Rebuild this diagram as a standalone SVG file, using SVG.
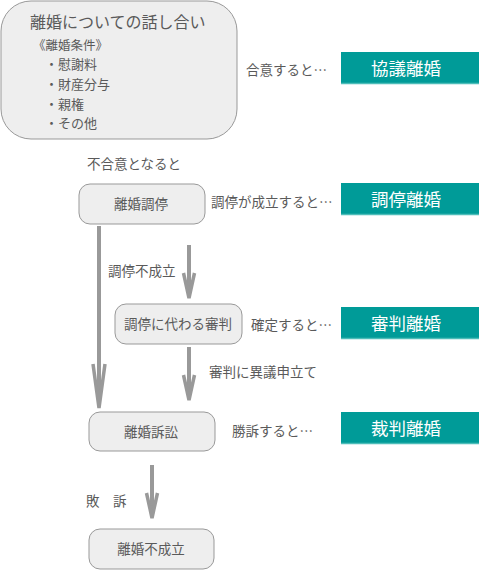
<svg xmlns="http://www.w3.org/2000/svg" width="479" height="570" viewBox="0 0 479 570">
<style>
text{font-family:"Noto Sans CJK JP","Noto Sans",sans-serif;fill:#5a5a5a}
.n{fill:#eeeeee;stroke:#999;stroke-width:1}
.t{fill:#009b98}
.tl{stroke:#4dbdb9;stroke-width:1.5}
.tt{fill:#fff;font-size:17.5px;text-anchor:middle}
.s{font-size:13.5px}
.i{font-size:13px}
.c{font-size:13.5px;text-anchor:middle}
.a{stroke:#999;stroke-width:4;fill:none}
.h{stroke:#999;stroke-width:3.5;fill:none;stroke-linejoin:miter}
</style>
<rect width="479" height="570" fill="#fff"/>
<g id="n-talk">
<rect class="n" x="1" y="1" width="236" height="138" rx="30"/>
<text x="30" y="28" style="font-size:16px">離婚についての話し合い</text>
<text x="33" y="50" style="font-size:12.5px">《離婚条件》</text>
<text x="45" y="69" class="i">・慰謝料</text>
<text x="45" y="89" class="i">・財産分与</text>
<text x="45" y="109" class="i">・親権</text>
<text x="45" y="128" class="i">・その他</text>
</g>
<g id="r1"><rect class="t" x="341" y="52" width="138" height="32"/><line class="tl" x1="341" y1="83.5" x2="479" y2="83.5"/><text class="tt" x="406" y="75">協議離婚</text></g>
<g id="r2"><rect class="t" x="341" y="183" width="138" height="32"/><line class="tl" x1="341" y1="214.5" x2="479" y2="214.5"/><text class="tt" x="406" y="206">調停離婚</text></g>
<g id="r3"><rect class="t" x="341" y="307" width="138" height="32"/><line class="tl" x1="341" y1="338.5" x2="479" y2="338.5"/><text class="tt" x="406" y="330">審判離婚</text></g>
<g id="r4"><rect class="t" x="341" y="412" width="138" height="32"/><line class="tl" x1="341" y1="443.5" x2="479" y2="443.5"/><text class="tt" x="406" y="435">裁判離婚</text></g>
<g id="n-chotei"><rect class="n" x="79" y="184" width="126" height="40" rx="11"/><text class="c" x="141" y="209">離婚調停</text></g>
<g id="n-shinpan"><rect class="n" x="115" y="304" width="127" height="40" rx="11"/><text class="c" x="178" y="329">調停に代わる審判</text></g>
<g id="n-sosho"><rect class="n" x="89" y="412" width="126" height="39" rx="11"/><text class="c" x="151" y="437">離婚訴訟</text></g>
<g id="n-fuseiritsu"><rect class="n" x="89" y="529" width="125" height="40" rx="11"/><text class="c" x="151" y="554">離婚不成立</text></g>
<g id="labels">
<text class="s" x="246" y="75">合意すると…</text>
<text class="s" x="87" y="169">不合意となると</text>
<text class="s" x="211" y="207">調停が成立すると…</text>
<text class="s" x="108" y="276">調停不成立</text>
<text class="s" x="251" y="330">確定すると…</text>
<text class="s" x="209" y="377">審判に異議申立て</text>
<text class="s" x="232" y="436">勝訴すると…</text>
<text class="s" x="86" y="506">敗　訴</text>
</g>
<g id="connectors">
<line class="a" x1="99" y1="226" x2="99" y2="406"/><polyline class="h" points="93,364 99,408 105,364"/>
<line class="a" x1="189" y1="245" x2="189" y2="296"/><polyline class="h" points="183.5,273 189,298 194.5,273"/>
<line class="a" x1="189" y1="347" x2="189" y2="398"/><polyline class="h" points="183.5,375 189,400 194.5,375"/>
<line class="a" x1="152" y1="465" x2="152" y2="516"/><polyline class="h" points="146.5,493 152,518 157.5,493"/>
</g>
</svg>
